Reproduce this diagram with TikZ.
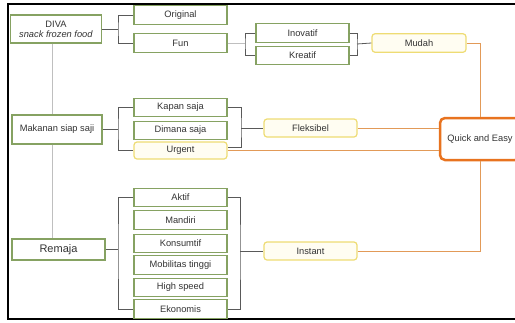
\documentclass[tikz,border=0pt]{standalone}
\usepackage{fontspec}
\setmainfont{Liberation Sans}
\usepackage{xcolor}
\usetikzlibrary{positioning}
\definecolor{boxgreen}{HTML}{86A262}
\definecolor{boxyellow}{HTML}{EEDC74}
\definecolor{fillyellow}{HTML}{FFFDF2}
\definecolor{lineorange}{HTML}{E29A58}
\definecolor{qeorange}{HTML}{E8731F}
\definecolor{txtgray}{HTML}{333333}

\begin{document}
\begin{tikzpicture}[x=1pt,y=-1pt,
  item/.style={rectangle,draw=boxgreen,line width=1.2pt,fill=white,minimum width=93pt,minimum height=18.5pt,inner sep=0pt,text=txtgray,font=\fontsize{9.3}{11}\selectfont},
  main/.style={item,minimum width=91pt,minimum height=28pt,align=center},
  goal/.style={item,draw=boxyellow,fill=fillyellow,rounded corners=3pt},
  link/.style={draw=black!65,line width=0.8pt},
  trunk/.style={draw=black!25,line width=0.8pt},
  easy/.style={draw=lineorange,line width=1pt}]
  \useasboundingbox (0,0) rectangle (515,322);
  \clip (0,0) rectangle (515,322);
  \draw[line width=2pt] (520,4) -- (8,4) -- (8,319) -- (520,319);
  % main column
  \node[main] (diva) at (56,29) {DIVA\\[-1pt]\textit{snack frozen food}};
  \node[main,minimum width=90pt,minimum height=29pt] (makanan) at (57,129.5) {Makanan siap saji};
  \node[main,minimum width=93pt,minimum height=21pt,font=\fontsize{11}{13}\selectfont] (remaja) at (58.5,249.5) {Remaja};
  \coordinate (tr) at (52,0);
  \draw[trunk] (diva.south -| tr) -- (makanan.north -| tr);
  \draw[trunk] (makanan.south -| tr) -- (remaja.north -| tr);
  % DIVA
  \node[item] (original) at (180.5,15) {Original};
  \node[item] (fun) at (180.5,43) {Fun};
  \coordinate (j1) at (118,29);
  \draw[link] (diva.east) -- (j1);
  \draw[link] (original.west) -| (j1) |- (fun.west);
  \node[item] (inovatif) at (302.5,33) {Inovatif};
  \node[item] (kreatif) at (302.5,55.5) {Kreatif};
  \coordinate (j2) at (245,43);
  \draw[trunk] (fun.east) -- (j2);
  \draw[link] (inovatif.west) -| (j2) |- (kreatif.west);
  \node[goal,minimum width=94pt] (mudah) at (419,43) {Mudah};
  \coordinate (j3) at (357,44);
  \draw[link] (inovatif.east) -| (j3) |- (kreatif.east);
  \draw[link] (j3) -- (mudah.west);
  % Makanan siap saji
  \node[item] (kapan) at (180.5,107.5) {Kapan saja};
  \node[item] (dimana) at (180.5,130.5) {Dimana saja};
  \node[goal,minimum height=17pt] (urgent) at (180.5,150.5) {Urgent};
  \coordinate (j4) at (118,129.5);
  \draw[link] (makanan.east) -- (j4);
  \draw[link] (kapan.west) -| (j4) |- (urgent.west);
  \node[goal,minimum height=18pt] (fleksibel) at (310.5,128) {Fleksibel};
  \coordinate (j5) at (241,128);
  \draw[link] (kapan.east) -| (j5) |- ([yshift=3.5pt]urgent.east);
  \draw[link] (j5) -- (fleksibel.west);
  % Remaja
  \node[item] (aktif) at (180.5,197.5) {Aktif};
  \node[item] (mandiri) at (180.5,220) {Mandiri};
  \node[item] (konsumtif) at (180.5,243.5) {Konsumtif};
  \node[item] (mobilitas) at (180.5,265) {Mobilitas tinggi};
  \node[item] (highspeed) at (180.5,287.5) {High speed};
  \node[item] (ekonomis) at (180.5,309) {Ekonomis};
  \coordinate (j6) at (118,249.5);
  \draw[link] (remaja.east) -- (j6);
  \draw[link] (aktif.west) -| (j6) |- (ekonomis.west);
  \node[goal,minimum height=18pt] (instant) at (310.5,251) {Instant};
  \coordinate (j7) at (240,251);
  \draw[link] (aktif.east) -| (j7) |- (ekonomis.east);
  \draw[link] (j7) -- (instant.west);
  % Quick and Easy
  \node[item,draw=qeorange,line width=2.5pt,rounded corners=5pt,minimum width=80pt,minimum height=42pt] (qe) at (480,139) {Quick and Easy};
  \draw[easy] (mudah.east) -| (qe.north);
  \draw[easy] (fleksibel.east) -- (fleksibel.east -| qe.west);
  \draw[easy] (urgent.east) -- (urgent.east -| qe.west);
  \draw[easy] (instant.east) -| (qe.south);
\end{tikzpicture}
\end{document}
